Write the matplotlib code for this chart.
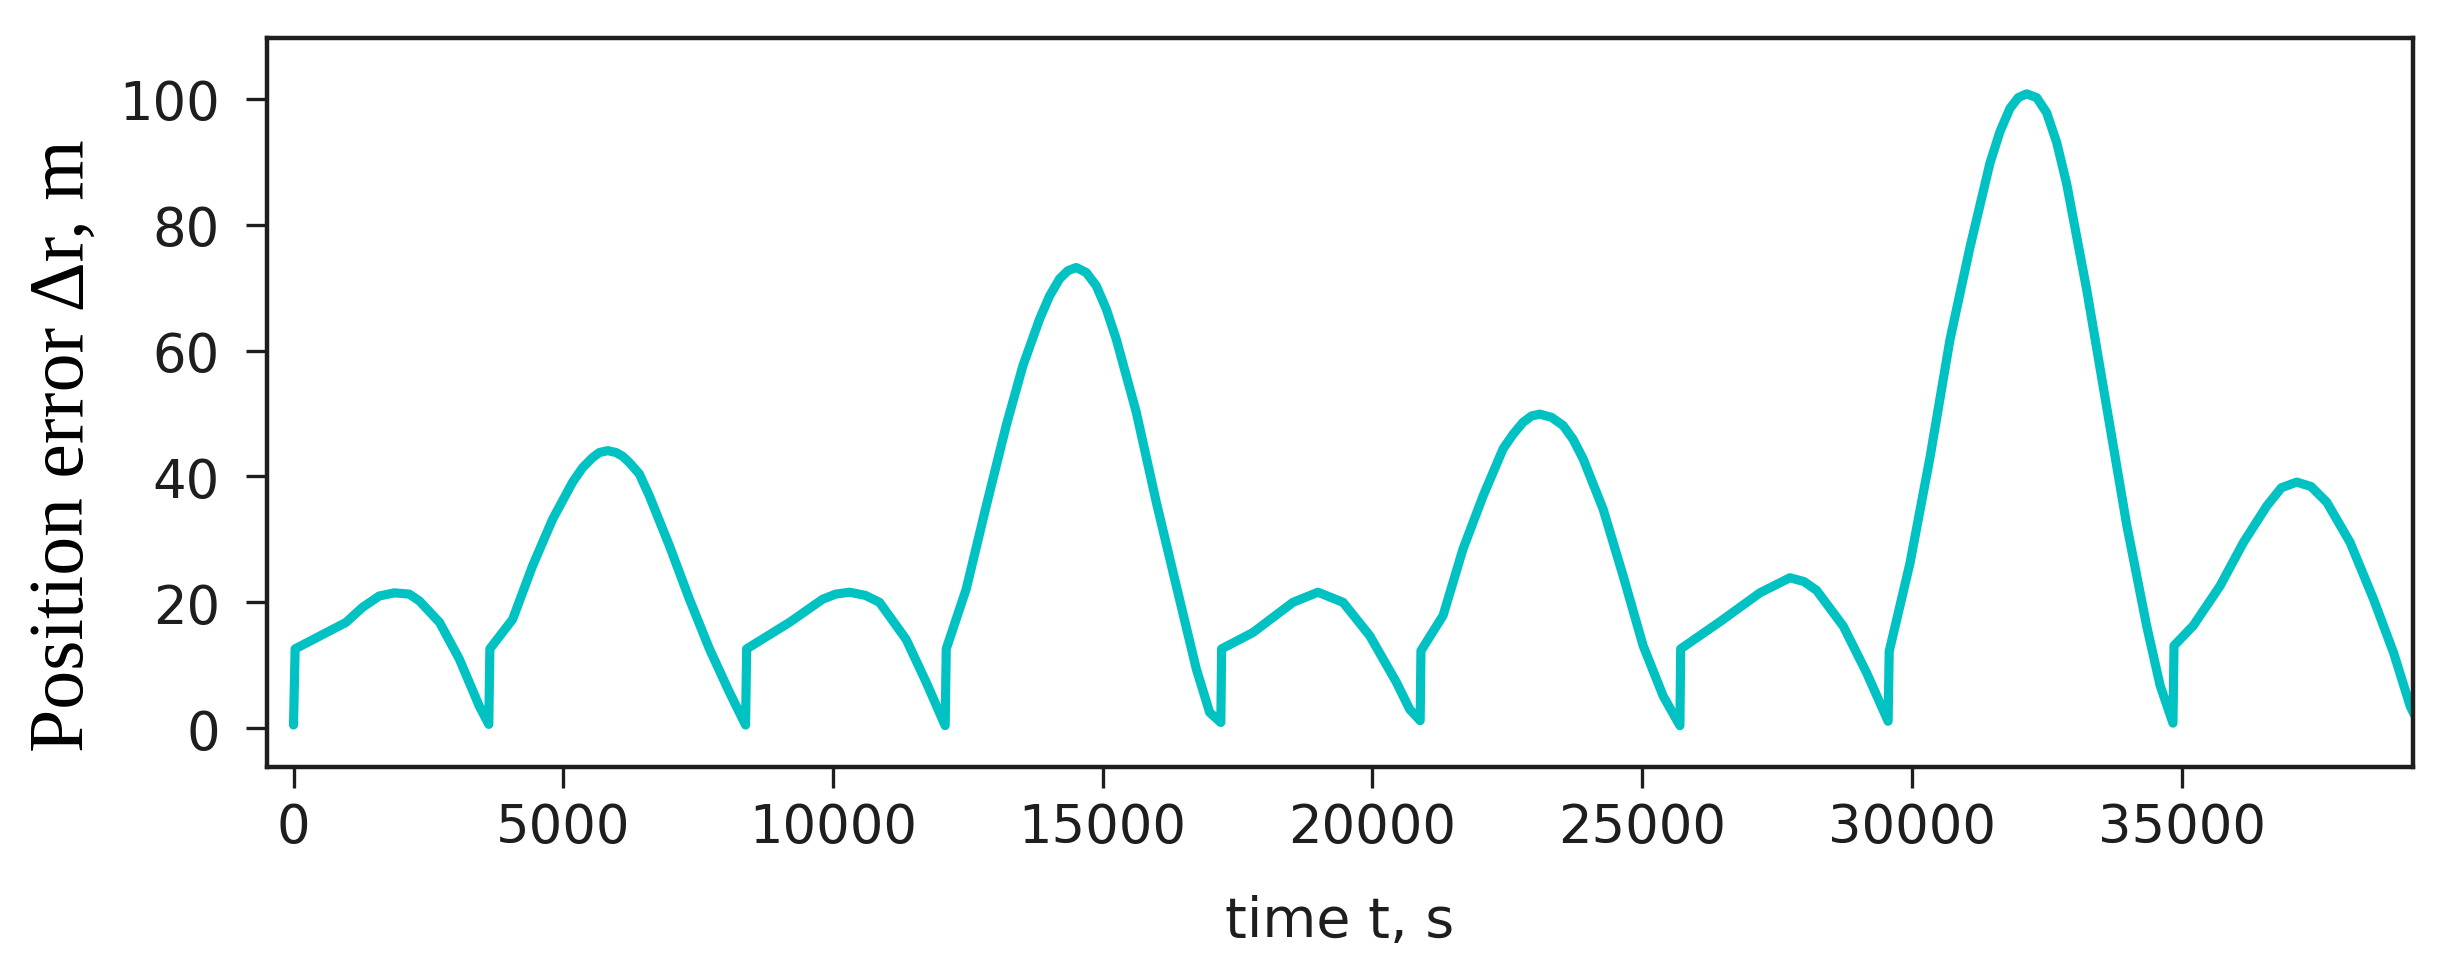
import matplotlib
matplotlib.use("Agg")
import matplotlib.pyplot as plt

# Position error vs time (arcs separated by resets)
time_s = [
    0, 30, 972, 1280, 1589, 1868, 2146, 2336, 2707, 3073, 3444, 3620,
    3640, 4062, 4432, 4803, 5174, 5360, 5545, 5669, 5823, 5979, 6102, 6226, 6411, 6597, 6968, 7339, 7710, 8081, 8380,
    8400, 9193, 9811, 10050, 10306, 10600, 10862, 11357, 11728, 12080,
    12100, 12470, 12841, 13212, 13521, 13830, 14016, 14201, 14355, 14510, 14696, 14881, 15067, 15252, 15623, 15994, 16365, 16736, 16983, 17190,
    17205, 17786, 18528, 18991, 19455, 19950, 20444, 20691, 20885,
    20900, 21310, 21681, 22052, 22423, 22608, 22793, 22948, 23103, 23319, 23535, 23720, 23906, 24277, 24648, 25019, 25390, 25700,
    25715, 26441, 27183, 27739, 28000, 28234, 28729, 29161, 29560,
    29580, 29965, 30336, 30706, 31077, 31448, 31634, 31819, 31973, 32128, 32314, 32499, 32684, 32870, 33241, 33612, 33983, 34354, 34602, 34840,
    34860, 35218, 35713, 36146, 36579, 36850, 37135, 37400, 37692, 38125, 38558, 38929, 39238, 39350,
]
error_m = [
    0.5, 12.6, 16.8, 19.2, 21.0, 21.5, 21.3, 20.2, 16.8, 11.0, 3.5, 0.6,
    12.6, 17.3, 25.8, 33.2, 39.1, 41.4, 43.0, 43.8, 44.1, 43.8, 43.2, 42.2, 40.4, 36.9, 29.0, 20.5, 12.6, 5.7, 0.5,
    12.6, 16.8, 20.5, 21.3, 21.6, 21.1, 20.0, 14.1, 7.3, 0.4,
    12.6, 22.1, 35.3, 48.1, 57.6, 65.0, 68.7, 71.4, 72.7, 73.2, 72.4, 70.3, 66.6, 61.8, 50.2, 35.9, 22.6, 9.4, 2.5, 0.9,
    12.6, 15.2, 20.0, 21.6, 20.0, 14.7, 7.3, 3.0, 1.2,
    12.3, 17.9, 28.5, 36.9, 44.4, 46.7, 48.6, 49.6, 49.9, 49.4, 48.1, 45.9, 42.8, 34.8, 24.2, 13.1, 5.1, 0.4,
    12.6, 16.9, 21.5, 23.9, 23.3, 21.9, 16.2, 8.8, 1.1,
    12.2, 26.2, 43.0, 61.7, 76.4, 89.8, 94.8, 98.5, 100.2, 100.8, 100.2, 97.8, 93.1, 86.5, 69.7, 51.0, 32.3, 16.2, 6.8, 0.8,
    13.1, 16.3, 22.6, 29.5, 35.3, 38.2, 39.1, 38.4, 35.9, 29.5, 20.5, 12.0, 3.5, 1.5,
]

x_ticks = [0, 5000, 10000, 15000, 20000, 25000, 30000, 35000]
y_ticks = [0, 20, 40, 60, 80, 100]

plt.rcParams['font.family'] = ['DejaVu Sans']

fig = plt.figure(figsize=(24.48, 9.79), dpi=100)
ax = fig.add_axes([0.1091, 0.2160, 0.8766, 0.7437])

ax.plot(time_s, error_m, color='#00C2C2', linewidth=6.6, solid_joinstyle='round', solid_capstyle='round')

ax.set_xlim(-490, 39290)
ax.set_ylim(-6.1, 109.6)
ax.set_xticks(x_ticks)
ax.set_yticks(y_ticks)
ax.set_xticklabels([str(v) for v in x_ticks])
ax.set_yticklabels([str(v) for v in y_ticks])

for s in ax.spines.values():
    s.set_linewidth(3.2)
    s.set_color('#1e1e1e')

ax.tick_params(axis='both', direction='out', length=15, width=2.4, colors='#1e1e1e',
               labelsize=38, labelcolor='#1e1e1e')
ax.tick_params(axis='x', pad=10)
ax.tick_params(axis='y', pad=19)

ax.set_xlabel('time t, s', fontsize=40, color='#1e1e1e', labelpad=29)
fig.text(0.026, 0.545, 'Position error \u0394r, m', rotation=90, ha='center', va='center',
         fontsize=56, family=['Liberation Serif', 'DejaVu Serif'], color='black')

fig.savefig('out.png', dpi=100, facecolor='white')
